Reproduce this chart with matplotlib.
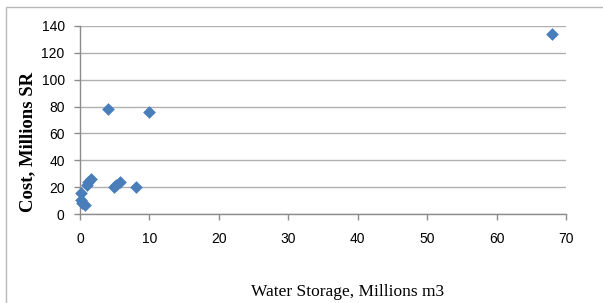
import matplotlib
matplotlib.use("Agg")
import matplotlib.pyplot as plt
from matplotlib.patches import Rectangle

storage = [0.2, 0.2, 0.3, 0.7, 1.0, 1.2, 1.6, 4.0, 4.9, 5.2, 5.7, 8.0, 10.0, 68.0]
cost = [15.5, 10.5, 8.5, 7.0, 21.5, 24.0, 26.5, 78.0, 20.5, 22.0, 24.0, 20.5, 76.0, 134.0]
x_ticks = [0, 10, 20, 30, 40, 50, 60, 70]
y_ticks = [0, 20, 40, 60, 80, 100, 120, 140]

W, H = 603, 303
fig = plt.figure(figsize=(W / 100, H / 100), dpi=100)
fig.patch.set_facecolor("white")
fig.patches.append(Rectangle((6 / W, -0.1), 1.2, (H - 7) / H + 0.1, transform=fig.transFigure,
                             fill=False, edgecolor="#b8b8b8", linewidth=1.0))

ax = fig.add_axes([80 / W, (H - 214.3) / H, (566 - 80) / W, (214.3 - 25.7) / H])
ax.scatter(storage, cost, marker="D", s=42, color="#4a7ebb", zorder=3, linewidths=0, clip_on=False)

ax.set_xlim(0, 70)
ax.set_ylim(0, 140)
ax.set_xticks(x_ticks)
ax.set_yticks(y_ticks)
ax.yaxis.grid(True, color="#b0b0b0", linewidth=1.0)
ax.set_axisbelow(True)
for s in ("top", "right"):
    ax.spines[s].set_visible(False)
for s in ("left", "bottom"):
    ax.spines[s].set_color("#8c8c8c")
    ax.spines[s].set_linewidth(1.0)
ax.tick_params(axis="both", colors="#8c8c8c", length=4, width=1.0, labelcolor="black")
ax.tick_params(axis="x", pad=9)
ax.tick_params(axis="y", pad=7)
tick_font = ["Liberation Sans", "DejaVu Sans"]
for lab in ax.get_xticklabels() + ax.get_yticklabels():
    lab.set_family(tick_font)
    lab.set_fontsize(10)

fig.text(28 / W, 1 - 142 / H, "Cost, Millions SR", rotation=90, ha="center", va="center",
         family=["Liberation Serif", "DejaVu Serif"], fontsize=13.5, fontweight="bold")
fig.text(348 / W, 1 - 292 / H, "Water Storage, Millions m3", ha="center", va="center",
         family=["Liberation Serif", "DejaVu Serif"], fontsize=12.5)

fig.savefig("out.png", dpi=100)
